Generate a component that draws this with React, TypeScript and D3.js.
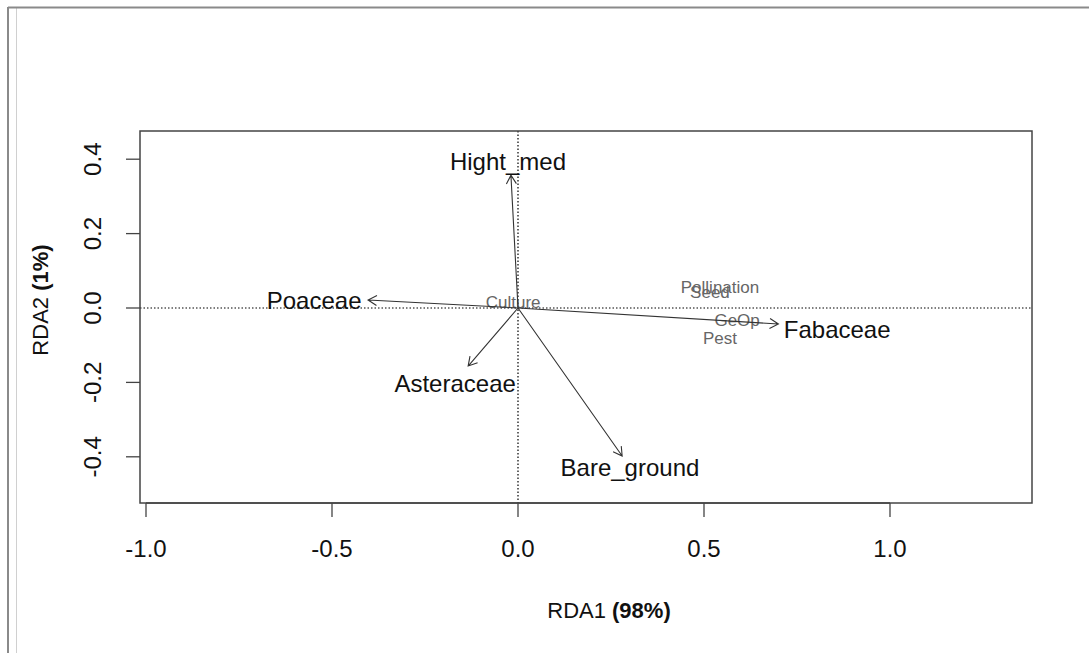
import React, { useEffect, useRef } from "react";
import * as d3 from "d3";

// biplot arrows (explanatory variables)
const arrowNames = ["Hight_med", "Poaceae", "Asteraceae", "Bare_ground", "Fabaceae"];
const arrowX = [-0.019, -0.403, -0.134, 0.28, 0.70];
const arrowY = [0.357, 0.0215, -0.156, -0.398, -0.043];
const arrowLabelX = [-0.027, -0.548, -0.169, 0.301, 0.858];
const arrowLabelY = [0.393, 0.019, -0.202, -0.43, -0.059];

// response scores
const scoreNames = ["Culture", "Pollination", "Seed", "GeOp", "Pest"];
const scoreX = [-0.013, 0.543, 0.516, 0.589, 0.543];
const scoreY = [0.016, 0.056, 0.043, -0.032, -0.081];

const xTicks = [-1.0, -0.5, 0.0, 0.5, 1.0];
const yTicks = [-0.4, -0.2, 0.0, 0.2, 0.4];

export default function App() {
  const svgRef = useRef(null);

  useEffect(() => {
    const width = 1089;
    const height = 653;
    const box = { left: 140, right: 1032, top: 131, bottom: 503 };

    const svg = d3.select(svgRef.current).attr("width", width).attr("height", height);
    svg.selectAll("*").remove();

    const font = "Arial, 'Liberation Sans', sans-serif";

    // frame of the screenshot
    svg.append("line").attr("x1", 8).attr("x2", 8).attr("y1", 7).attr("y2", height)
      .attr("stroke", "#8a8a8a").attr("stroke-width", 2);
    svg.append("line").attr("x1", 16.5).attr("x2", 16.5).attr("y1", 8).attr("y2", height)
      .attr("stroke", "#d0d0d0").attr("stroke-width", 1);
    svg.append("line").attr("x1", 8).attr("x2", width).attr("y1", 7.5).attr("y2", 7.5)
      .attr("stroke", "#8a8a8a").attr("stroke-width", 2);

    const x = d3.scaleLinear().domain([-1.0, 1.0]).range([146, 890]);
    const y = d3.scaleLinear().domain([-0.4, 0.4]).range([456.8, 159.2]);

    const g = svg.append("g").attr("font-family", font);

    // zero lines
    g.append("line").attr("x1", box.left).attr("x2", box.right)
      .attr("y1", y(0)).attr("y2", y(0))
      .attr("stroke", "#000").attr("stroke-width", 1.2).attr("stroke-dasharray", "1.5,2");
    g.append("line").attr("x1", x(0)).attr("x2", x(0))
      .attr("y1", box.top).attr("y2", box.bottom)
      .attr("stroke", "#000").attr("stroke-width", 1.2).attr("stroke-dasharray", "1.5,2");

    // score labels
    g.selectAll(".score")
      .data(scoreNames)
      .enter().append("text")
      .attr("x", (d, i) => x(scoreX[i]))
      .attr("y", (d, i) => y(scoreY[i]))
      .attr("dy", "0.35em")
      .attr("text-anchor", "middle")
      .attr("font-size", 17)
      .attr("fill", "#666")
      .text(d => d);

    // arrows
    const headLen = 10;
    const headAng = Math.PI / 6;
    const arrowPath = (i) => {
      const x0 = x(0), y0 = y(0);
      const x1 = x(arrowX[i]), y1 = y(arrowY[i]);
      const a = Math.atan2(y1 - y0, x1 - x0);
      const hx1 = x1 - headLen * Math.cos(a - headAng);
      const hy1 = y1 - headLen * Math.sin(a - headAng);
      const hx2 = x1 - headLen * Math.cos(a + headAng);
      const hy2 = y1 - headLen * Math.sin(a + headAng);
      return `M${x0},${y0}L${x1},${y1}M${hx1},${hy1}L${x1},${y1}L${hx2},${hy2}`;
    };
    g.selectAll(".arrow")
      .data(arrowNames)
      .enter().append("path")
      .attr("d", (d, i) => arrowPath(i))
      .attr("fill", "none")
      .attr("stroke", "#333")
      .attr("stroke-width", 1.1);

    g.selectAll(".arrowlab")
      .data(arrowNames)
      .enter().append("text")
      .attr("x", (d, i) => x(arrowLabelX[i]))
      .attr("y", (d, i) => y(arrowLabelY[i]))
      .attr("dy", "0.35em")
      .attr("text-anchor", "middle")
      .attr("font-size", 24)
      .attr("fill", "#111")
      .text(d => d);

    // box
    g.append("rect")
      .attr("x", box.left).attr("y", box.top)
      .attr("width", box.right - box.left).attr("height", box.bottom - box.top)
      .attr("fill", "none").attr("stroke", "#444").attr("stroke-width", 1.5);

    // x axis
    const xa = g.append("g");
    xa.selectAll("line").data(xTicks).enter().append("line")
      .attr("x1", d => x(d)).attr("x2", d => x(d))
      .attr("y1", box.bottom).attr("y2", box.bottom + 14)
      .attr("stroke", "#444").attr("stroke-width", 1.3);
    xa.append("line").attr("x1", x(-1)).attr("x2", x(1))
      .attr("y1", box.bottom).attr("y2", box.bottom)
      .attr("stroke", "#444").attr("stroke-width", 1.3);
    xa.selectAll("text").data(xTicks).enter().append("text")
      .attr("x", d => x(d)).attr("y", 557)
      .attr("text-anchor", "middle").attr("font-size", 24).attr("fill", "#111")
      .text(d => d3.format(".1f")(d).replace("−", "-"));

    // y axis
    const ya = g.append("g");
    ya.selectAll("line").data(yTicks).enter().append("line")
      .attr("x1", box.left - 14).attr("x2", box.left)
      .attr("y1", d => y(d)).attr("y2", d => y(d))
      .attr("stroke", "#444").attr("stroke-width", 1.3);
    ya.selectAll("text").data(yTicks).enter().append("text")
      .attr("transform", d => `translate(101,${y(d)}) rotate(-90)`)
      .attr("text-anchor", "middle").attr("font-size", 24).attr("fill", "#111")
      .text(d => d3.format(".1f")(d).replace("−", "-"));

    // axis titles
    const xt = g.append("text").attr("x", 609).attr("y", 618)
      .attr("text-anchor", "middle").attr("font-size", 22).attr("fill", "#111");
    xt.append("tspan").text("RDA1 ");
    xt.append("tspan").attr("font-weight", "bold").text("(98%)");

    const yt = g.append("text").attr("transform", "translate(48,300) rotate(-90)")
      .attr("text-anchor", "middle").attr("font-size", 22).attr("fill", "#111");
    yt.append("tspan").text("RDA2 ");
    yt.append("tspan").attr("font-weight", "bold").text("(1%)");
  }, []);

  return (
    <svg ref={svgRef} style={{ position: "absolute", left: 0, top: 0, background: "#fff" }}></svg>
  );
}
